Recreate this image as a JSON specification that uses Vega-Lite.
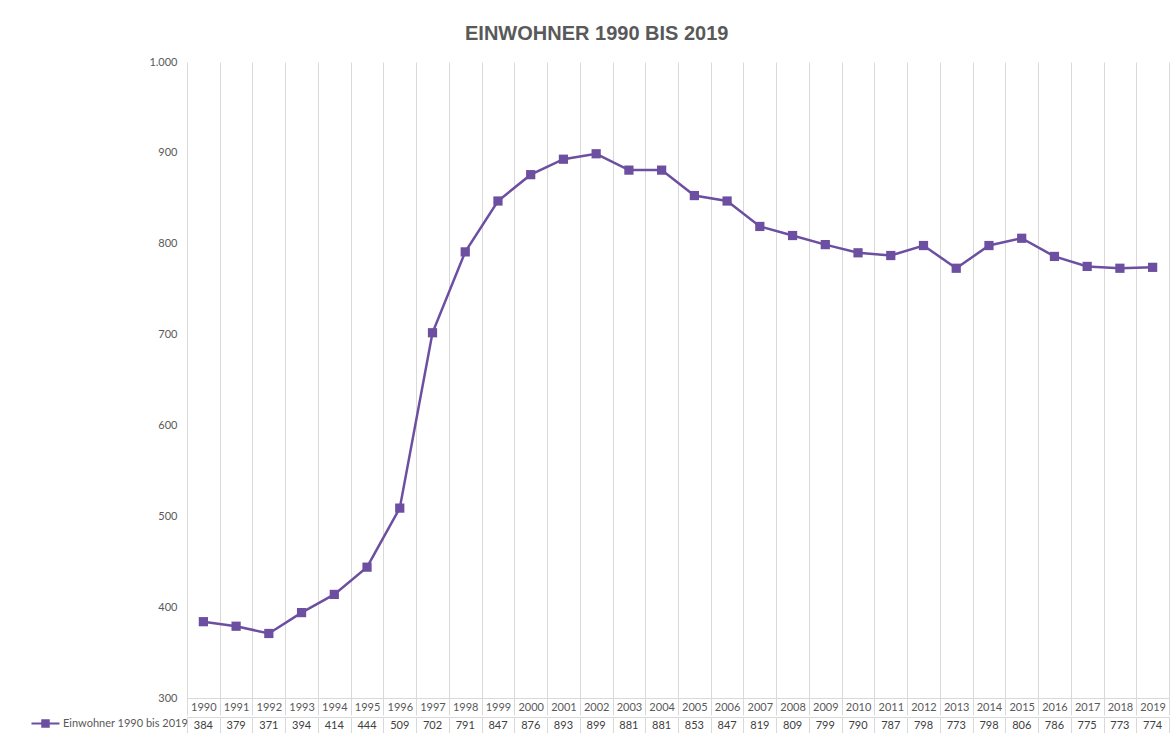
{
  "$schema": "https://vega.github.io/schema/vega-lite/v6.json",
  "padding": {"left": 40, "top": 24, "right": 4, "bottom": 2},
  "background": "white",
  "title": {"text": "EINWOHNER 1990 BIS 2019", "fontSize": 20, "font": "Liberation Sans", "fontWeight": "bold", "color": "#595959", "anchor": "middle", "offset": 12, "dx": -8},
  "config": {
    "locale": {"number": {"decimal": ",", "thousands": ".", "grouping": [3], "currency": ["", " €"]}},
    "font": "Lato",
    "view": {"stroke": null},
    "concat": {"spacing": 0}
  },
  "datasets": {
    "pop": [
      {"Jahr": "1990", "Einwohner": 384},
      {"Jahr": "1991", "Einwohner": 379},
      {"Jahr": "1992", "Einwohner": 371},
      {"Jahr": "1993", "Einwohner": 394},
      {"Jahr": "1994", "Einwohner": 414},
      {"Jahr": "1995", "Einwohner": 444},
      {"Jahr": "1996", "Einwohner": 509},
      {"Jahr": "1997", "Einwohner": 702},
      {"Jahr": "1998", "Einwohner": 791},
      {"Jahr": "1999", "Einwohner": 847},
      {"Jahr": "2000", "Einwohner": 876},
      {"Jahr": "2001", "Einwohner": 893},
      {"Jahr": "2002", "Einwohner": 899},
      {"Jahr": "2003", "Einwohner": 881},
      {"Jahr": "2004", "Einwohner": 881},
      {"Jahr": "2005", "Einwohner": 853},
      {"Jahr": "2006", "Einwohner": 847},
      {"Jahr": "2007", "Einwohner": 819},
      {"Jahr": "2008", "Einwohner": 809},
      {"Jahr": "2009", "Einwohner": 799},
      {"Jahr": "2010", "Einwohner": 790},
      {"Jahr": "2011", "Einwohner": 787},
      {"Jahr": "2012", "Einwohner": 798},
      {"Jahr": "2013", "Einwohner": 773},
      {"Jahr": "2014", "Einwohner": 798},
      {"Jahr": "2015", "Einwohner": 806},
      {"Jahr": "2016", "Einwohner": 786},
      {"Jahr": "2017", "Einwohner": 775},
      {"Jahr": "2018", "Einwohner": 773},
      {"Jahr": "2019", "Einwohner": 774}
    ]
  },
  "vconcat": [
    {
      "width": 982,
      "height": 636,
      "data": {"name": "pop"},
      "encoding": {
        "x": {
          "field": "Jahr", "type": "ordinal",
          "scale": {"type": "band", "paddingInner": 0, "paddingOuter": 0},
          "axis": {
            "orient": "bottom", "title": null, "labelAngle": 0, "tickBand": "extent",
            "grid": true, "gridColor": "#d9d9d9", "gridWidth": 1,
            "ticks": true, "tickSize": 17, "tickColor": "#d9d9d9",
            "domainColor": "#d9d9d9", "labelPadding": -14,
            "labelFontSize": 11, "labelColor": "#595959", "labelFont": "Lato"
          }
        },
        "y": {
          "field": "Einwohner", "type": "quantitative",
          "scale": {"domain": [300, 1000], "nice": false, "zero": false},
          "axis": {
            "title": null, "values": [300, 400, 500, 600, 700, 800, 900, 1000], "format": ",d",
            "ticks": false, "domain": false, "grid": false, "labelPadding": 10,
            "labelColor": "#595959", "labelFontSize": 11, "labelFont": "Lato"
          }
        }
      },
      "layer": [
        {"mark": {"type": "line", "color": "#6C4FA0", "strokeWidth": 2.5}},
        {
          "mark": {"type": "point", "shape": "square", "filled": true, "size": 85, "opacity": 1},
          "encoding": {
            "color": {
              "datum": "Einwohner 1990 bis 2019", "type": "nominal",
              "scale": {"range": ["#6C4FA0"]},
              "legend": {
                "orient": "none", "legendX": -147, "legendY": 656, "title": null, "padding": 0,
                "symbolType": "M-2.8,-0.22H2.8V0.22H-2.8Z M-0.85,-0.85H0.85V0.85H-0.85Z",
                "symbolSize": 100, "symbolStrokeWidth": 0, "labelOffset": 12,
                "labelFontSize": 11, "labelColor": "#595959", "labelFont": "Lato"
              }
            }
          }
        }
      ]
    },
    {
      "width": 982,
      "height": 17,
      "data": {"name": "pop"},
      "view": {"stroke": "#d9d9d9"},
      "mark": {"type": "text", "fontSize": 11, "color": "#404040", "font": "Lato"},
      "encoding": {
        "x": {
          "field": "Jahr", "type": "ordinal",
          "scale": {"type": "band", "paddingInner": 0, "paddingOuter": 0},
          "axis": {
            "title": null, "labels": false, "ticks": false, "domain": false,
            "grid": true, "gridColor": "#d9d9d9", "tickBand": "extent"
          }
        },
        "text": {"field": "Einwohner", "type": "quantitative"}
      }
    }
  ]
}
